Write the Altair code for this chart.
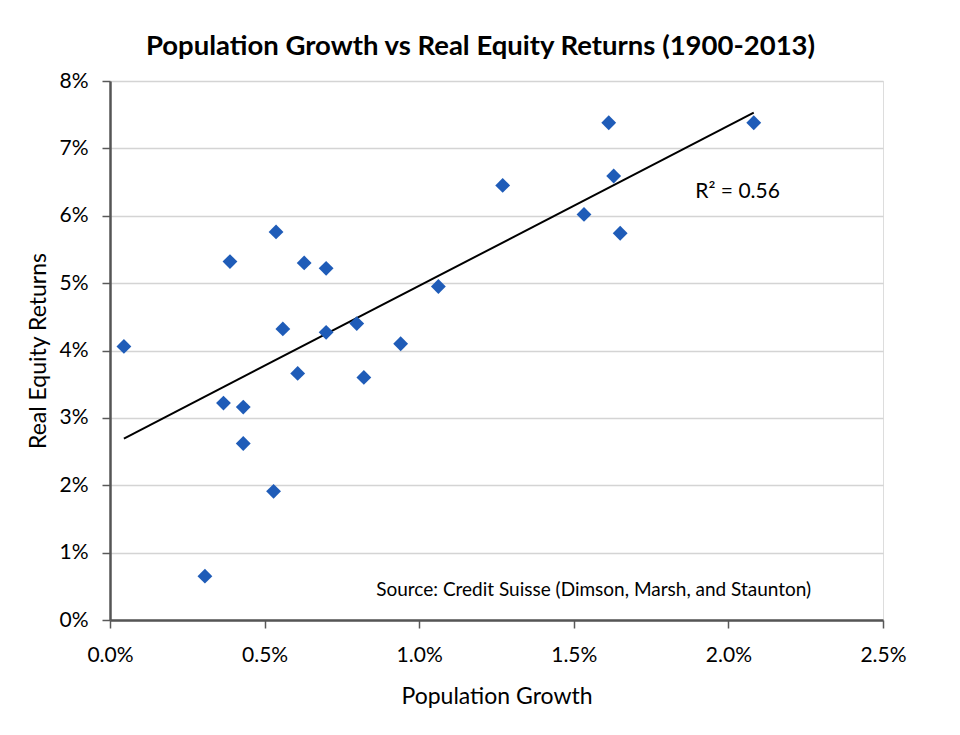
import altair as alt
import pandas as pd

# Population growth (%) and real equity returns (%)
pop_growth = [0.045, 0.307, 0.367, 0.431, 0.431, 0.529, 0.388, 0.537, 0.559, 0.607,
              0.628, 0.699, 0.699, 0.798, 0.821, 0.940, 1.062, 1.270, 1.533, 1.613,
              1.629, 1.650, 2.082]
equity_ret = [4.06, 0.65, 3.22, 3.16, 2.62, 1.91, 5.32, 5.76, 4.32, 3.66,
              5.30, 5.22, 4.27, 4.40, 3.60, 4.10, 4.95, 6.45, 6.02, 7.38,
              6.59, 5.74, 7.38]

x_ticks = [0.0, 0.005, 0.010, 0.015, 0.020, 0.025]
y_ticks = [0.00, 0.01, 0.02, 0.03, 0.04, 0.05, 0.06, 0.07, 0.08]

annot_text = ["R² = 0.56", "Source: Credit Suisse (Dimson, Marsh, and Staunton)"]
annot_x = [0.01893, 0.00861]
annot_y = [0.0627, 0.0036]
annot_size = [21, 19]

df = pd.DataFrame({"pop": [v / 100 for v in pop_growth],
                   "ret": [v / 100 for v in equity_ret]})
ann = pd.DataFrame({"t": annot_text, "x": annot_x, "y": annot_y, "s": annot_size})

FONT = "Lato"

xs = alt.Scale(domain=[0, 0.025], nice=False, zero=False)
ys = alt.Scale(domain=[0, 0.08], nice=False, zero=False)

x_axis = alt.Axis(title="Population Growth", format=".1%", values=x_ticks,
                  grid=False, tickSize=8, tickColor="#595959", tickWidth=1.5,
                  domainColor="#555555", domainWidth=2.5, labelFlush=False,
                  labelFontSize=21, labelColor="black", labelPadding=16,
                  labelFont=FONT, titleFont=FONT, titleFontSize=23,
                  titleFontWeight="normal", titleColor="black", titlePadding=20)
y_axis = alt.Axis(title="Real Equity Returns", format=".0%", values=y_ticks,
                  grid=True, gridColor="#d4d4d4", gridWidth=1.5,
                  tickSize=8, tickColor="#595959", tickWidth=1.5,
                  domainColor="#555555", domainWidth=2.5, labelFlush=False,
                  labelFontSize=21, labelColor="black", labelPadding=14,
                  labelFont=FONT, titleFont=FONT, titleFontSize=23,
                  titleFontWeight="normal", titleColor="black", titlePadding=8)

base = alt.Chart(df)

points = base.mark_point(shape="diamond", filled=True, size=220, opacity=1,
                         color="#1f5cb8").encode(
    x=alt.X("pop:Q", scale=xs, axis=x_axis),
    y=alt.Y("ret:Q", scale=ys, axis=y_axis),
)

trend = base.transform_regression("pop", "ret").mark_line(
    color="black", strokeWidth=2).encode(
    x=alt.X("pop:Q", scale=xs),
    y=alt.Y("ret:Q", scale=ys),
)

labels = alt.Chart(ann).mark_text(align="left", baseline="alphabetic",
                                  font=FONT, color="black").encode(
    x=alt.X("x:Q", scale=xs),
    y=alt.Y("y:Q", scale=ys),
    text="t:N",
    size=alt.Size("s:Q", scale=None, legend=None),
)

chart = alt.layer(trend, points, labels).properties(
    width=773, height=539,
    title=alt.TitleParams("Population Growth vs Real Equity Returns (1900-2013)",
                          font=FONT, fontSize=27.5, fontWeight="bold",
                          color="black", anchor="middle", offset=10, dx=-16),
    autosize=alt.AutoSizeParams(type="none"),
    padding={"left": 102, "top": 73, "right": 69, "bottom": 107},
).configure_view(stroke="#111111", strokeWidth=2).configure(background="white")

chart.save("out.html", embed_options={"renderer": "svg", "actions": False})
